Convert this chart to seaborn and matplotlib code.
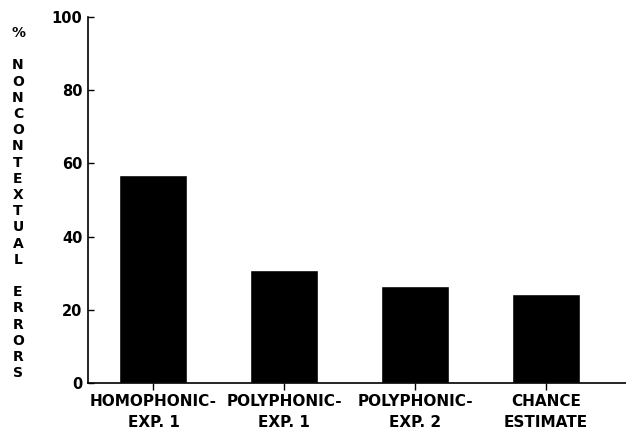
import matplotlib
matplotlib.use("Agg")
import matplotlib.pyplot as plt
import seaborn as sns
import pandas as pd

# data
conditions = ["HOMOPHONIC-\nEXP. 1", "POLYPHONIC-\nEXP. 1", "POLYPHONIC-\nEXP. 2", "CHANCE\nESTIMATE"]
pct_errors = [56.7, 30.8, 26.5, 24.3]
y_ticks = [0, 20, 40, 60, 80, 100]
y_title_parts = ["%", "NONCONTEXTUAL", "ERRORS"]

df = pd.DataFrame({"condition": conditions, "pct": pct_errors})

sns.set_style("ticks")
plt.rcParams["font.family"] = ["DejaVu Sans"]
plt.rcParams["font.weight"] = "bold"
plt.rcParams["text.color"] = "black"
plt.rcParams["xtick.color"] = "black"
plt.rcParams["ytick.color"] = "black"

fig = plt.figure(figsize=(6.26, 4.33), dpi=100)
ax = fig.add_axes([88 / 626, 1 - 383 / 433, 1 - 88 / 626, 366 / 433])

sns.barplot(data=df, x="condition", y="pct", color="black", width=0.52,
            saturation=1, ax=ax)

ax.set_xlim(-0.5, 3.61)
ax.set_ylim(0, 100)
ax.set_yticks(y_ticks)
sns.despine(ax=ax)
for s in ["left", "bottom"]:
    ax.spines[s].set_linewidth(1.2)
    ax.spines[s].set_color("black")

ax.tick_params(axis="y", direction="in", length=4.5, width=1, labelsize=10.5, pad=4)
ax.tick_params(axis="x", direction="out", length=5, width=1, labelsize=11, pad=3)
for lab in ax.get_xticklabels() + ax.get_yticklabels():
    lab.set_fontweight("bold")
    lab.set_color("black")
for lab in ax.get_xticklabels():
    lab.set_linespacing(1.45)

ax.set_xlabel("")
ax.set_ylabel("")

# stacked vertical axis title
letters = "\n\n".join("\n".join(list(p)) for p in y_title_parts)
fig.text(18 / 626, 1 - 26 / 433, letters, ha="center", va="top", fontsize=10,
         fontweight="bold", linespacing=1.2)

fig.savefig("out.png", dpi=100)
